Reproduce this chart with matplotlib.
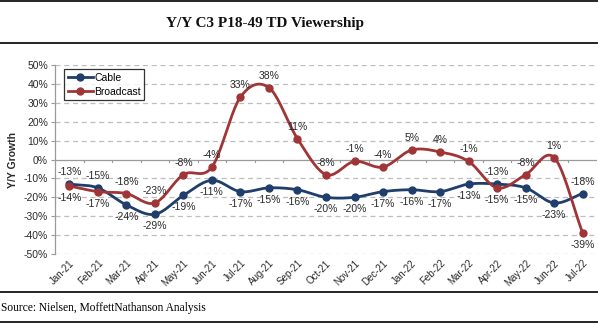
import numpy as np
import matplotlib
matplotlib.use("Agg")
import matplotlib.pyplot as plt
from matplotlib.lines import Line2D

plt.rcParams["font.family"] = ["Liberation Sans", "DejaVu Sans"]

months = ["Jan-21", "Feb-21", "Mar-21", "Apr-21", "May-21", "Jun-21", "Jul-21",
          "Aug-21", "Sep-21", "Oct-21", "Nov-21", "Dec-21", "Jan-22", "Feb-22",
          "Mar-22", "Apr-22", "May-22", "Jun-22", "Jul-22"]
cable = [-13, -15, -24, -29, -19, -11, -17, -15, -16, -20, -20, -17, -16, -17,
         -13, -13, -15, -23, -18]
broadcast = [-14, -17, -18, -23, -8, -4, 33, 38, 11, -8, -1, -4, 5, 4,
             -1, -15, -8, 1, -39]
yticks = list(range(-50, 51, 10))

CABLE_C = "#1f3e6c"
BCAST_C = "#a03537"
TEXT_C = "#2b2b2b"


def smooth(xs, ys, n=20):
    """Catmull-Rom curve through the points, like a spreadsheet 'smoothed line'."""
    xs = np.asarray(xs, float)
    ys = np.asarray(ys, float)
    P = np.column_stack([xs, ys])
    P = np.vstack([2 * P[0] - P[1], P, 2 * P[-1] - P[-2]])
    out = []
    t = np.linspace(0, 1, n, endpoint=False)[:, None]
    for i in range(1, len(P) - 2):
        p0, p1, p2, p3 = P[i - 1], P[i], P[i + 1], P[i + 2]
        seg = 0.5 * ((2 * p1) + (-p0 + p2) * t + (2 * p0 - 5 * p1 + 4 * p2 - p3) * t ** 2
                     + (-p0 + 3 * p1 - 3 * p2 + p3) * t ** 3)
        out.append(seg)
    out.append(P[-2][None, :])
    arr = np.vstack(out)
    return arr[:, 0], arr[:, 1]


fig = plt.figure(figsize=(5.98, 3.36), dpi=100)
W, H = 598, 336

ax = fig.add_axes([55 / W, 82 / H, 542 / W, 189 / H])
x = np.arange(len(months))

ax.set_xlim(-0.5, len(months) - 0.5)
ax.set_ylim(-50, 50)

# grid lines
for v in yticks:
    if v == 0:
        continue
    ax.axhline(v, color="#bdbdbd", lw=0.9, ls=(0, (4, 3)), zorder=0)
ax.axhline(0, color="#9a9a9a", lw=0.9, zorder=1)
# category tick marks on the zero line
for b in np.arange(0.5, len(months) - 0.5, 1):
    ax.plot([b, b], [0, -1.3], color="#9a9a9a", lw=0.8, zorder=1, clip_on=False)

for s in ["top", "right", "bottom"]:
    ax.spines[s].set_visible(False)
ax.spines["left"].set_color("#9a9a9a")
ax.spines["left"].set_linewidth(0.9)

ax.set_yticks(yticks)
ax.set_yticklabels([f"{v}%" for v in yticks], fontsize=7.5, color=TEXT_C)
ax.tick_params(axis="y", length=3, color="#9a9a9a", pad=2)
ax.set_xticks(x)
ax.set_xticklabels(months, rotation=45, ha="right", va="top", rotation_mode="anchor",
                   fontsize=7, color=TEXT_C)
ax.tick_params(axis="x", length=0, pad=3)

ax.set_ylabel("Y/Y Growth", fontsize=7.5, fontweight="bold", labelpad=4, color=TEXT_C)

for ys, c in [(cable, CABLE_C), (broadcast, BCAST_C)]:
    sx, sy = smooth(x, ys)
    ax.plot(sx, sy, color=c, lw=2.0, zorder=3, solid_capstyle="round")
    ax.plot(x, ys, "o", color=c, ms=5, zorder=4)

# value labels: upper series labelled above, lower series below
for i in range(len(months)):
    c, b = cable[i], broadcast[i]
    if c > b:
        up, dn = c, b
    else:
        up, dn = b, c
    ax.annotate(f"{up}%", (i, up), xytext=(0, 5), textcoords="offset points",
                ha="center", va="bottom", fontsize=7.5, color=TEXT_C, zorder=5)
    ax.annotate(f"{dn}%", (i, dn), xytext=(0, -5), textcoords="offset points",
                ha="center", va="top", fontsize=7.5, color=TEXT_C, zorder=5)

handles = [Line2D([], [], color=CABLE_C, lw=2, marker="o", ms=5),
           Line2D([], [], color=BCAST_C, lw=2, marker="o", ms=5)]
leg = ax.legend(handles, ["Cable", "Broadcast"], loc="upper left",
                bbox_to_anchor=(9 / 542, 1 - 4 / 189), fontsize=7.5, frameon=True,
                fancybox=False, edgecolor="black", handlelength=2.4,
                borderpad=0.35, labelspacing=0.4, handletextpad=0.15,
                borderaxespad=0)
leg.get_frame().set_linewidth(0.9)

# page furniture: title, rules and source line
fig.text(265 / W, 1 - 24 / H, "Y/Y C3 P18-49 TD Viewership", ha="center", va="center",
         fontsize=11, fontweight="bold", family="Liberation Serif", color="#111111")
for yy in [1, 43, 292, 322]:
    fig.add_artist(Line2D([0, 1], [1 - yy / H, 1 - yy / H], color="black", lw=1.2))
fig.text(1 / W, 1 - 308 / H, "Source: Nielsen, MoffettNathanson Analysis",
         ha="left", va="center", fontsize=8.3, family="Liberation Serif")

fig.savefig("out.png", dpi=100)
